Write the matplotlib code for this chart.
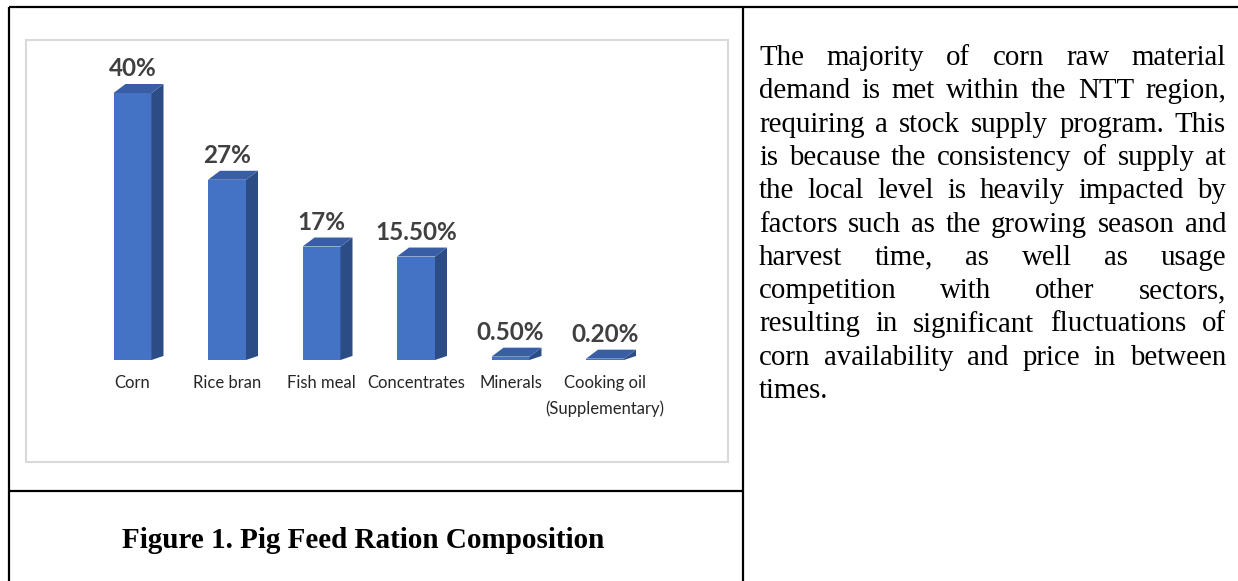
import matplotlib
matplotlib.use("Agg")
import matplotlib.pyplot as plt
from matplotlib.patches import Rectangle

# ---------------- data ----------------
categories = ["Corn", "Rice bran", "Fish meal", "Concentrates", "Minerals",
              "Cooking oil\n(Supplementary)"]
values = [40, 27, 17, 15.5, 0.5, 0.2]
value_labels = ["40%", "27%", "17%", "15.50%", "0.50%", "0.20%"]
caption = "Figure 1. Pig Feed Ration Composition"
paragraph_lines = [
    "The majority of corn raw material",
    "demand is met within the NTT region,",
    "requiring a stock supply program. This",
    "is because the consistency of supply at",
    "the local level is heavily impacted by",
    "factors such as the growing season and",
    "harvest time, as well as usage",
    "competition with other sectors,",
    "resulting in significant fluctuations of",
    "corn availability and price in between",
    "times.",
]

W, H = 1238, 581
DPI = 100
fig = plt.figure(figsize=(W / DPI, H / DPI), dpi=DPI)

# overlay axes in pixel coordinates for the page/table layout
page = fig.add_axes([0, 0, 1, 1])
page.set_xlim(0, W)
page.set_ylim(H, 0)
page.axis("off")

lw_table = 1.6
page.plot([9, W], [7, 7], color="black", lw=lw_table, solid_capstyle="butt")
page.plot([9, 9], [7, H], color="black", lw=lw_table, solid_capstyle="butt")
page.plot([743, 743], [7, H], color="black", lw=lw_table, solid_capstyle="butt")
page.plot([9, 743], [491, 491], color="black", lw=lw_table, solid_capstyle="butt")

# chart frame
page.add_patch(Rectangle((26, 40), 702, 422, fill=False, edgecolor="#d9d9d9", lw=1.5))

# caption
page.text(363, 541, caption, ha="center", va="center", fontsize=21,
          fontweight="bold", family="Liberation Serif", color="black")

# justified paragraph
renderer = fig.canvas.get_renderer()
x_left, x_right = 759, 1226
y0, dy_line = 58, 33.3
fs_par = 20.8
for i, line in enumerate(paragraph_lines):
    y = y0 + i * dy_line
    words = line.split()
    if i == len(paragraph_lines) - 1 or len(words) == 1:
        page.text(x_left, y, line, ha="left", va="center", fontsize=fs_par,
                  family="Liberation Serif", color="black")
        continue
    texts = []
    widths = []
    for w in words:
        t = page.text(0, y, w, ha="left", va="center", fontsize=fs_par,
                      family="Liberation Serif", color="black")
        bb = t.get_window_extent(renderer)
        texts.append(t)
        widths.append(bb.width)
    gap = (x_right - x_left - sum(widths)) / (len(words) - 1)
    x = x_left
    for t, wd in zip(texts, widths):
        t.set_x(x)
        x += wd + gap

# ---------------- chart ----------------
px_unit = 94.5          # pixels per category
px_pct = 6.675          # pixels per percent
base_px = 360
center0 = 132.5
ax = fig.add_axes([26 / W, (H - 462) / H, 702 / W, 422 / H])
ax.set_xlim(-(center0 - 26) / px_unit, (728 - center0) / px_unit)
ax.set_ylim(-(462 - base_px) / px_pct, (base_px - 40) / px_pct)
ax.axis("off")
ax.patch.set_alpha(0)

front_c = "#4472C4"
side_c = "#2C4C86"
top_c = "#3A5EA6"
bw = 38 / px_unit
ddx = 12 / px_unit
ddy = 9 / px_pct
xs = list(range(len(categories)))

ax.bar(xs, values, width=bw, color=front_c, edgecolor="none", zorder=2)
for x, v in zip(xs, values):
    xl, xr = x - bw / 2, x + bw / 2
    ax.fill([xr, xr + ddx, xr + ddx, xr], [0, ddy * 0.45, v + ddy, v],
            color=side_c, lw=0, zorder=2)
    ax.fill([xl, xr, xr + ddx, xl + ddx], [v, v, v + ddy, v + ddy],
            color=top_c, lw=0, zorder=3)

for x, v, lab in zip(xs, values, value_labels):
    ax.annotate(lab, xy=(x, v), xytext=(0, 17.5), textcoords="offset points",
                ha="center", va="center", fontsize=17.5, fontweight="bold",
                family="Lato", color="#404040")

for x, c in zip(xs, categories):
    ax.annotate(c, xy=(x, 0), xytext=(0, -10.5), textcoords="offset points",
                ha="center", va="top", fontsize=12, family="Lato",
                color="#262626", linespacing=1.75)

fig.savefig("out.png", dpi=DPI, facecolor="white")
